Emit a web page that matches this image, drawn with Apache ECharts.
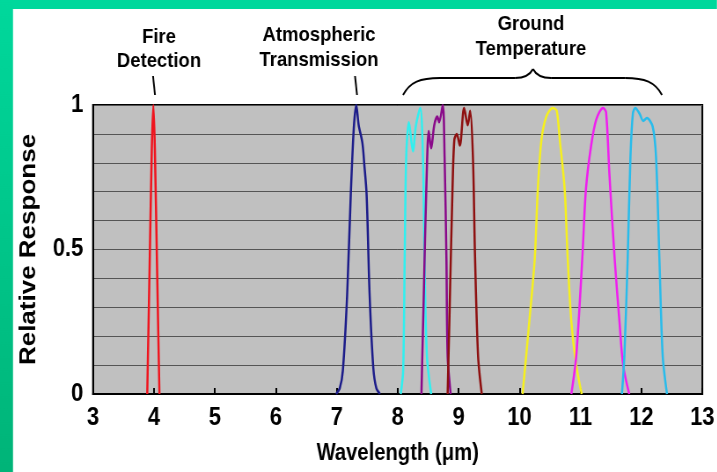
<!doctype html>
<html><head><meta charset="utf-8"></head>
<body style="margin:0;background:#fff;overflow:hidden">
<div id="main" style="width:815px;height:472px;transform:scaleX(0.88);transform-origin:0 0"></div>
<script src="https://cdn.jsdelivr.net/npm/echarts@6/dist/echarts.min.js"></script>
<script>
// spectral response of each band, [wavelength um, relative response]
var fire = [[3.89,0],[3.93,0.45],[3.965,0.85],[3.99,1.0],[4.015,0.85],[4.05,0.45],[4.09,0]];
var atmos = [[6.99,0],[7.05,0.02],[7.1,0.08],[7.17,0.34],[7.23,0.69],[7.28,0.92],[7.32,1.0],[7.36,0.93],[7.42,0.87],[7.45,0.8],[7.49,0.69],[7.54,0.34],[7.6,0.09],[7.65,0.02],[7.71,0]];
var gt1 = [[8.05,0],[8.09,0.08],[8.115,0.47],[8.14,0.82],[8.185,0.94],[8.25,0.84],[8.3,0.93],[8.37,0.99],[8.415,0.82],[8.44,0.47],[8.48,0.13],[8.55,0]];
var gt2 = [[8.39,0],[8.43,0.36],[8.47,0.71],[8.51,0.91],[8.55,0.85],[8.6,0.93],[8.65,0.96],[8.68,0.94],[8.74,1.0],[8.77,0.82],[8.8,0.47],[8.82,0.13],[8.87,0]];
var gt3 = [[8.82,0],[8.86,0.36],[8.9,0.71],[8.93,0.88],[8.97,0.9],[9.02,0.86],[9.09,0.99],[9.15,0.93],[9.19,0.98],[9.235,0.82],[9.27,0.47],[9.32,0.13],[9.38,0]];
var gt4 = [[10.05,0],[10.16,0.25],[10.25,0.47],[10.3,0.71],[10.36,0.88],[10.44,0.96],[10.545,0.99],[10.61,0.98],[10.66,0.88],[10.74,0.71],[10.79,0.47],[10.85,0.25],[10.93,0.1],[11.02,0]];
var gt5 = [[10.85,0],[10.93,0.13],[11.03,0.47],[11.09,0.71],[11.175,0.86],[11.26,0.95],[11.37,0.99],[11.42,0.975],[11.475,0.76],[11.56,0.47],[11.64,0.25],[11.7,0.1],[11.8,0]];
var gt6 = [[11.68,0],[11.72,0.13],[11.775,0.47],[11.82,0.82],[11.86,0.97],[11.9,0.99],[11.97,0.97],[12.03,0.945],[12.09,0.955],[12.185,0.925],[12.24,0.82],[12.295,0.47],[12.35,0.13],[12.42,0]];
var bands = [fire, atmos, gt1, gt2, gt3, gt4, gt5, gt6];
var colors = ['#f0141e', '#1c1c8a', '#30f0f0', '#8a0a8a', '#8e1010', '#f6f01e', '#f01ef0', '#28bcec'];
var yLabels = ['0', '0.5', '1'];

// the whole picture is squeezed horizontally, so draw wider and scale the div
var K = 0.88;
function sx(x) { return x / K; }
var font = "'Liberation Sans', Arial, sans-serif";
var chart = echarts.init(document.getElementById('main'));

var series = bands.map(function (b, i) {
  return {
    type: 'line', data: b, smooth: 0.3, symbol: 'none',
    lineStyle: {color: colors[i], width: 2.5}, z: 3
  };
});

var black = {stroke: '#000', lineWidth: 2, fill: null};

chart.setOption({
  animation: false,
  grid: {left: sx(93), right: sx(14), top: 105, bottom: 78, show: true,
    backgroundColor: '#c0c0c0', borderColor: '#000', borderWidth: 2},
  xAxis: {
    type: 'value', min: 3, max: 13, interval: 1,
    name: 'Wavelength (\u03bcm)', nameLocation: 'middle', nameGap: 48,
    nameTextStyle: {fontFamily: font, fontWeight: 'bold', fontSize: 23, color: '#000'},
    axisLine: {lineStyle: {color: '#000', width: 2}},
    axisTick: {inside: true, length: 6, lineStyle: {color: '#000', width: 2}},
    axisLabel: {margin: 12, fontFamily: font, fontWeight: 'bold', fontSize: 25, color: '#000'},
    splitLine: {show: false}
  },
  yAxis: {
    type: 'value', min: 0, max: 1, interval: 0.1,
    name: 'Relative Response', nameLocation: 'middle', nameGap: 60,
    nameTextStyle: {fontFamily: font, fontWeight: 'bold', fontSize: 26, color: '#000'},
    axisLine: {lineStyle: {color: '#000', width: 2}},
    axisTick: {show: false},
    axisLabel: {margin: 11, fontFamily: font, fontWeight: 'bold', fontSize: 25, color: '#000',
      formatter: function (v) {
        var s = String(Math.round(v * 10) / 10);
        return yLabels.indexOf(s) >= 0 ? s : '';
      }},
    splitLine: {lineStyle: {color: '#555', width: 1}}
  },
  graphic: [
    {type: 'rect', shape: {x: 0, y: 0, width: sx(717), height: 9}, style: {fill: '#00d89c'}},
    {type: 'rect', shape: {x: 0, y: 0, width: sx(13), height: 472},
      style: {fill: new echarts.graphic.LinearGradient(0, 0, 0, 1, [{offset: 0, color: '#00d89c'}, {offset: 1, color: '#00b478'}])}},
    {type: 'text', x: sx(159), y: 25, style: {text: 'Fire\nDetection', align: 'center', lineHeight: 24,
      font: 'bold 21px ' + font, fill: '#000'}},
    {type: 'text', x: sx(319), y: 23, style: {text: 'Atmospheric\nTransmission', align: 'center', lineHeight: 25,
      font: 'bold 21px ' + font, fill: '#000'}},
    {type: 'text', x: sx(531), y: 12, style: {text: 'Ground\nTemperature', align: 'center', lineHeight: 25,
      font: 'bold 21px ' + font, fill: '#000'}},
    {type: 'line', shape: {x1: sx(153), y1: 76, x2: sx(155), y2: 95}, style: black},
    {type: 'line', shape: {x1: sx(355), y1: 76, x2: sx(357), y2: 95}, style: black},
    // curly brace over the ground temperature bands
    {type: 'bezierCurve', shape: {x1: sx(403), y1: 95, cpx1: sx(410), cpy1: 82, cpx2: sx(420), cpy2: 78, x2: sx(440), y2: 78}, style: black},
    {type: 'line', shape: {x1: sx(440), y1: 78, x2: sx(515), y2: 78}, style: black},
    {type: 'bezierCurve', shape: {x1: sx(515), y1: 78, cpx1: sx(525), cpy1: 78, cpx2: sx(530), cpy2: 75, x2: sx(533), y2: 69}, style: black},
    {type: 'bezierCurve', shape: {x1: sx(533), y1: 69, cpx1: sx(536), cpy1: 75, cpx2: sx(541), cpy2: 78, x2: sx(551), y2: 78}, style: black},
    {type: 'line', shape: {x1: sx(551), y1: 78, x2: sx(625), y2: 78}, style: black},
    {type: 'bezierCurve', shape: {x1: sx(625), y1: 78, cpx1: sx(645), cpy1: 78, cpx2: sx(655), cpy2: 82, x2: sx(662), y2: 95}, style: black}
  ],
  series: series
});
</script>
</body></html>
